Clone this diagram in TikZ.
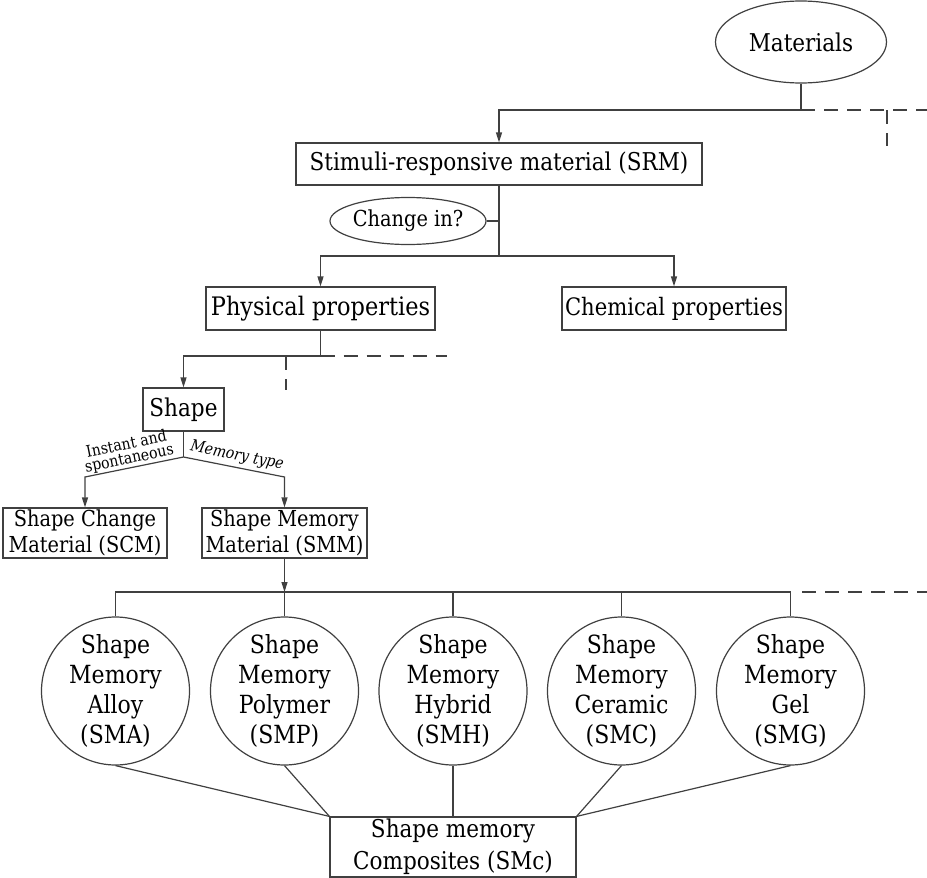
\documentclass[tikz,border=0pt]{standalone}
\usepackage{fontspec}
\setmainfont{DejaVu Serif}[FakeStretch=0.88]
\usetikzlibrary{shapes.geometric,arrows.meta}
\begin{document}
\begin{tikzpicture}[x=1pt,y=-1pt,
  line/.style={draw=black!75,line width=1.2pt},
  arr/.style={line,-{Triangle[length=10pt,width=6pt]}},
  dsh/.style={line,dash pattern=on 14pt off 9pt},
  boxn/.style={line,rectangle,inner sep=0pt,align=center,font=\fontsize{24.5}{26}\selectfont},
  ellx/.style={line,ellipse,inner sep=0pt,font=\fontsize{24.5}{26}\selectfont},
  circ/.style={line,circle,minimum size=148pt,inner sep=0pt,align=center,font=\fontsize{25}{30}\selectfont},
  lbl/.style={inner sep=0pt,align=center,font=\fontsize{16}{14.5}\selectfont}
]
\useasboundingbox (0,0) rectangle (927,878);
\node[ellx,minimum width=171pt,minimum height=82pt] (mat) at (801,42) {Materials};
\node[boxn,minimum width=406pt,minimum height=42pt] (srm) at (499,164) {Stimuli-responsive material (SRM)};
\node[ellx,minimum width=119pt,minimum height=47pt,font=\fontsize{22}{26}\selectfont] (chg) at (408,221) {Change in?};
\node[boxn,minimum width=229pt,minimum height=43pt,font=\fontsize{25.5}{26}\selectfont] (phy) at (320.5,308.5) {Physical properties};
\node[boxn,minimum width=224pt,minimum height=43pt,font=\fontsize{24}{26}\selectfont] (chem) at (674,308.5) {Chemical properties};
\node[boxn,minimum width=81pt,minimum height=43pt] (shp) at (183.5,409.5) {Shape};
\node[boxn,minimum width=164pt,minimum height=50pt,font=\fontsize{22}{26}\selectfont] (scm) at (85,533) {Shape Change\\Material (SCM)};
\node[boxn,minimum width=165pt,minimum height=50pt,font=\fontsize{22}{26}\selectfont] (smm) at (284.5,533) {Shape Memory\\Material (SMM)};
\node[circ] (c1) at (115.5,691) {Shape\\Memory\\Alloy\\(SMA)};
\node[circ] (c2) at (284.5,691) {Shape\\Memory\\Polymer\\(SMP)};
\node[circ] (c3) at (453,691) {Shape\\Memory\\Hybrid\\(SMH)};
\node[circ] (c4) at (621.5,691) {Shape\\Memory\\Ceramic\\(SMC)};
\node[circ] (c5) at (790.5,691) {Shape\\Memory\\Gel\\(SMG)};
\node[boxn,minimum width=246pt,minimum height=60pt,font=\fontsize{24.5}{32}\selectfont] (comp) at (453,847) {Shape memory\\Composites (SMc)};
% junctions
\coordinate (j1) at (801,110);
\coordinate (j2) at (499,256);
\coordinate (j3) at (320.5,356);
\coordinate (j4) at (183.5,457);
\coordinate (k1) at (85,477);
\coordinate (k2) at (284.5,477);
\coordinate (j5) at (284.5,592);
\coordinate (b1) at (115.5,592);
\coordinate (b5) at (790.5,592);
\coordinate (ce) at (499,221);
% connectors
\draw[line] (mat.south) -- (j1);
\draw[arr] (j1) -| (srm.north);
\draw[dsh] (j1) -- (927,110);
\draw[dsh] (887,110) -- (887,146);
\draw[line] (srm.south) -- (j2);
\draw[line] (chg.east) -- (ce);
\draw[arr] (j2) -| (phy.north);
\draw[arr] (j2) -| (chem.north);
\draw[line] (phy.south) -- (j3);
\draw[arr] (j3) -| (shp.north);
\draw[dsh] (j3) -- (447,356);
\draw[dsh] (286,356) -- (286,390);
\draw[line] (shp.south) -- (j4);
\draw[arr] (j4) -- (k1) -- (scm.north);
\draw[arr] (j4) -- (k2) -- (smm.north);
\node[lbl,rotate=11.5] (l1) at (128,452) {Instant and\\spontaneous};
\node[lbl,rotate=-11.3,font=\fontsize{16}{14.5}\selectfont\itshape] (l2) at (237,456) {Memory type};
\draw[arr] (smm.south) -- (j5);
\draw[line] (c1.north) -- (b1) -- (b5) -- (c5.north);
\draw[line] (c2.north) -- (j5);
\draw[line] (c3.north) -- (c3.north |- b1);
\draw[line] (c4.north) -- (c4.north |- b1);
\draw[dsh] (802,592) -- (927,592);
\draw[line] (c1.south) -- (comp.north west);
\draw[line] (c2.south) -- (comp.north west);
\draw[line] (c3.south) -- (comp.north);
\draw[line] (c4.south) -- (comp.north east);
\draw[line] (c5.south) -- (comp.north east);
\end{tikzpicture}
\end{document}
